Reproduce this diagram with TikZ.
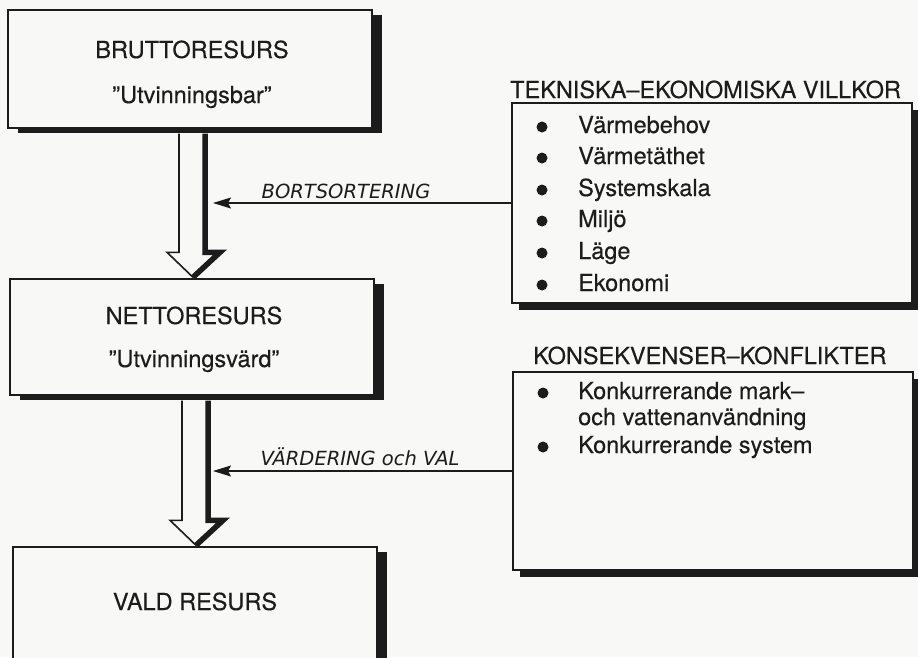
\documentclass[tikz,border=0pt]{standalone}
\usepackage{fontspec}
\setmainfont{TeX Gyre Heros}[FakeBold=0.35]
\newfontfamily\handfont{DejaVu Sans}
\usetikzlibrary{shadows,arrows.meta,calc}
\definecolor{paper}{RGB}{248,248,246}
\definecolor{ink}{RGB}{28,28,28}
\newcommand{\hollowarrow}[2]{%
  \draw[thinl] ($(#1.south -| #2)+(-14,5)$) -- ($(#2)+(-14,-25)$) -- ($(#2)+(-26,-25)$) -- (#2);
  \draw[thickl] (#2) -- ($(#2)+(27,-25)$) -- ($(#2)+(12,-25)$) -- ($(#1.south -| #2)+(12,5)$);
}
\begin{document}
\begin{tikzpicture}[x=1pt,y=-1pt,
  box/.style={draw=ink, line width=1.4pt, fill=paper, inner sep=0pt,
    drop shadow={shadow xshift=10pt, shadow yshift=-5pt, fill=ink, opacity=1}},
  rbox/.style={draw=ink, line width=1.4pt, fill=paper, inner sep=0pt,
    drop shadow={shadow xshift=7pt, shadow yshift=-7pt, fill=ink, opacity=1}},
  lbl/.style={text=ink, font=\fontsize{23.5}{28}\selectfont, inner sep=0pt},
  item/.style={lbl, anchor=base west},
  dot/.style={circle, fill=ink, inner sep=0pt, minimum size=11pt},
  hand/.style={text=ink, font=\handfont\itshape\fontsize{19.5}{23}\selectfont, inner sep=0pt, anchor=base},
  thinl/.style={draw=ink, line width=1.6pt, line join=miter},
  thickl/.style={draw=ink, line width=5.5pt, line join=miter},
  sidearr/.style={draw=ink, line width=1.5pt, -{Stealth[length=18pt,width=11pt,inset=3pt]}},
]
\useasboundingbox (0,0) rectangle (918,657);
\clip (0,0) rectangle (918,657);
\fill[paper] (0,0) rectangle (918,657);

% left boxes
\node[box, minimum width=364pt, minimum height=118pt] (b1) at (190,69) {};
\node[box, minimum width=364pt, minimum height=116pt] (b2) at (192,337) {};
\node[box, minimum width=364pt, minimum height=140pt] (b3) at (195,617) {};

\node[lbl, anchor=base] (b1a) at (192,58) {BRUTTORESURS};
\node[lbl, anchor=base] (b1b) at (192,103) {"Utvinningsbar"};
\node[lbl, anchor=base] (b2a) at (194,324) {NETTORESURS};
\node[lbl, anchor=base] (b2b) at (194,367) {"Utvinningsvärd"};
\node[lbl, anchor=base] (b3a) at (195,610) {VALD RESURS};

% right boxes
\node[rbox, minimum width=400pt, minimum height=200pt] (r1) at (712,203) {};
\node[rbox, minimum width=400pt, minimum height=198pt] (r2) at (713,471) {};

\node[lbl, anchor=base west] (r1t) at (510,98) {TEKNISKA–EKONOMISKA VILLKOR};
\node[lbl, anchor=base west] (r2t) at (533,364) {KONSEKVENSER–KONFLIKTER};

\node[item] (i1) at (578,133) {Värmebehov};
\node[item] (i2) at (578,164) {Värmetäthet};
\node[item] (i3) at (578,196) {Systemskala};
\node[item] (i4) at (578,227) {Miljö};
\node[item] (i5) at (578,259) {Läge};
\node[item] (i6) at (578,291) {Ekonomi};
\node[dot] (d1) at (542,127) {};
\node[dot] (d2) at (542,158) {};
\node[dot] (d3) at (542,190) {};
\node[dot] (d4) at (542,221) {};
\node[dot] (d5) at (542,253) {};
\node[dot] (d6) at (542,285) {};

\node[item] (k1) at (578,399) {Konkurrerande mark–};
\node[item] (k2) at (578,425) {och vattenanvändning};
\node[item] (k3) at (578,453) {Konkurrerande system};
\node[dot] (kd1) at (543,393) {};
\node[dot] (kd3) at (543,447) {};

% hollow arrows
\coordinate (t1) at ($(b2.north)+(1,-1)$);
\coordinate (t2) at ($(b3.north)+(1,-1)$);
\hollowarrow{b1}{t1}
\hollowarrow{b2}{t2}

% side arrows
\coordinate (e1) at (213,203);
\coordinate (e2) at (213,471);
\draw[sidearr] (r1.west) -- (e1);
\draw[sidearr] (r2.west) -- (e2);
\node[hand] (l1) at (346,198) {BORTSORTERING};
\node[hand] (l2) at (360,465) {VÄRDERING och VAL};
\end{tikzpicture}
\end{document}
